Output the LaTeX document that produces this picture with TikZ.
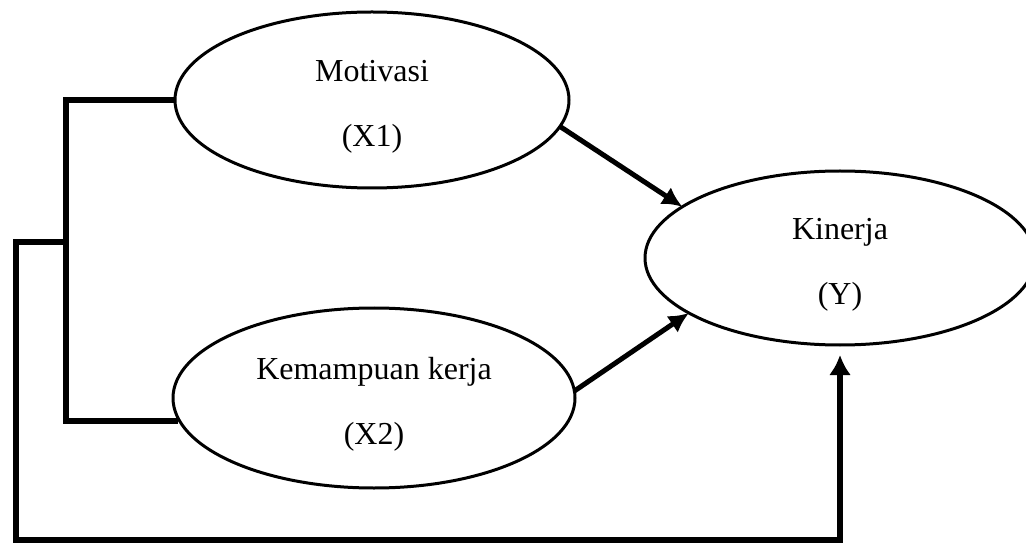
\documentclass[tikz,border=0pt]{standalone}
\usepackage{fontspec}
\setmainfont{Liberation Serif}
\usetikzlibrary{shapes.geometric,arrows.meta}
\newcommand{\lowerstrut}{\rule{0pt}{17pt}}
\begin{document}
\begin{tikzpicture}[x=0.5pt,y=-0.5pt,
  var/.style={draw,ellipse,line width=1.5pt,inner sep=0pt,outer sep=0pt,align=center,
    font=\fontsize{16}{32.5}\selectfont},
  bracket/.style={line width=3pt,line join=miter},
  effect/.style={line width=2.5pt,-{Latex[length=10pt,width=10pt]}},
  direct/.style={line width=3pt,line join=miter,-{Latex[length=10pt,width=11pt]},shorten >=5pt}]
\useasboundingbox (0,0) rectangle (1026,550);
\clip (0,0) rectangle (1026,550);
\node[var,minimum width=197pt,minimum height=88pt] (m) at (372,100) {\lowerstrut Motivasi\\(X1)};
\node[var,minimum width=201pt,minimum height=90pt] (k) at (374,398) {\lowerstrut Kemampuan kerja\\(X2)};
\node[var,minimum width=195pt,minimum height=87pt] (y) at (840,258) {\lowerstrut Kinerja\\(Y)};
\coordinate (bl) at (66,421);
\coordinate (jn) at (66,242);
\coordinate (bo) at (16,540);
\draw[bracket] (m.west) -| (bl) -- (k.186.8 |- bl);
\draw[direct] (jn) -| (bo) -| (y.south);
\draw[effect] (m.-8) -- (y.162);
\draw[effect] (k.2) -- (y.200);
\end{tikzpicture}
\end{document}
